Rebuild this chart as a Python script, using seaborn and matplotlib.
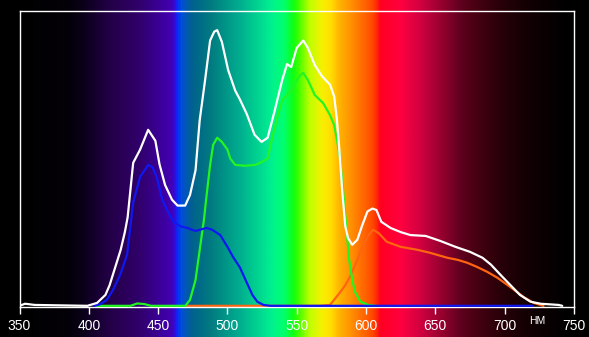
import numpy as np
import pandas as pd
import matplotlib
matplotlib.use("Agg")
import matplotlib.pyplot as plt
from matplotlib.colors import LinearSegmentedColormap
import seaborn as sns

# ---- data (wavelength nm, relative intensity) ----
white_wl = [350, 354, 361, 399, 406, 412, 415, 419, 423, 426, 428, 432, 437, 442.8, 448, 451, 455, 460,
            464, 469.5, 473, 477, 480, 484, 487.5, 490.5, 492.6, 496, 500.5, 505.6, 509, 514, 519.6,
            524.6, 529, 534, 539.5, 543, 546, 550, 554.7, 558, 563, 568, 574, 577, 579, 580.7, 582.8,
            585, 587, 590, 593.7, 597, 601, 604.6, 607.5, 611, 617.7, 625, 632, 643, 653.6, 664.5,
            675, 684, 690, 697, 704, 711, 718.6, 726, 739, 741.5]
white_val = [0, 0.007, 0.003, 0, 0.01, 0.037, 0.07, 0.13, 0.19, 0.25, 0.30, 0.485, 0.53, 0.597, 0.56, 0.48,
             0.41, 0.36, 0.34, 0.34, 0.376, 0.46, 0.63, 0.77, 0.90, 0.93, 0.935, 0.895, 0.80, 0.73, 0.70,
             0.65, 0.58, 0.556, 0.57, 0.66, 0.766, 0.82, 0.81, 0.875, 0.90, 0.875, 0.817, 0.78, 0.75,
             0.71, 0.63, 0.53, 0.39, 0.27, 0.23, 0.207, 0.224, 0.27, 0.32, 0.33, 0.325, 0.285, 0.264,
             0.25, 0.24, 0.237, 0.22, 0.20, 0.183, 0.163, 0.14, 0.105, 0.071, 0.037, 0.014, 0.007,
             0.003, 0]

blue_wl = [404, 408, 413, 417.5, 422.6, 427.6, 432, 437, 442.8, 446, 449, 453, 457, 461, 466, 471, 477,
           480, 485, 489, 494.8, 500, 504, 509, 514, 518, 521.5, 526, 531, 720]
blue_val = [0, 0.005, 0.02, 0.054, 0.105, 0.173, 0.35, 0.437, 0.478, 0.47, 0.437, 0.36, 0.32, 0.285,
            0.27, 0.264, 0.254, 0.258, 0.264, 0.258, 0.24, 0.2, 0.166, 0.13, 0.078, 0.037, 0.014,
            0.003, 0, 0]

green_wl = [405, 430, 435, 440, 445, 469.6, 473, 477, 480, 483, 485, 487.5, 489.7, 492.6, 496, 500, 502,
            505.6, 512.8, 520, 525, 529, 532, 536, 540, 545, 549.6, 552, 554.7, 558, 563, 569, 574,
            577, 579, 581, 583.4, 585.6, 587.8, 590, 592, 596, 601.6, 606.6]
green_val = [0, 0, 0.008, 0.006, 0, 0, 0.02, 0.088, 0.19, 0.29, 0.376, 0.478, 0.546, 0.57, 0.556, 0.53,
             0.50, 0.478, 0.475, 0.478, 0.488, 0.50, 0.563, 0.64, 0.70, 0.725, 0.76, 0.78, 0.79, 0.766,
             0.715, 0.688, 0.647, 0.613, 0.563, 0.51, 0.393, 0.275, 0.156, 0.088, 0.047, 0.014, 0.003, 0]

orange_wl = [470, 567, 574, 581, 585, 588.6, 593.7, 597, 601, 605, 609, 615, 625, 637, 646, 658.6, 666,
             673, 680, 687.5, 694.8, 704, 713.6, 720.8, 728]
orange_val = [0, 0, 0.003, 0.044, 0.07, 0.1, 0.156, 0.197, 0.234, 0.258, 0.247, 0.217, 0.2, 0.19, 0.18,
              0.163, 0.156, 0.146, 0.132, 0.115, 0.095, 0.064, 0.03, 0.01, 0]

x_ticks = [350, 400, 450, 500, 550, 600, 650, 700, 750]
unit_label = "НМ"

# spectrum background colour stops (wavelength, colour)
spec_wl = [350, 385, 394, 415, 437, 459, 462, 463.5, 466, 473, 487, 509, 531, 540, 547, 551, 559, 568,
           574, 581, 589, 603, 607, 610, 625, 639, 654, 668, 675, 697, 719, 740, 750]
spec_col = ["#000000", "#040008", "#0a0018", "#240048", "#32006e", "#4200b4", "#3010e0", "#0030ff",
            "#0050d8", "#006090", "#007a80", "#00b090", "#00f090", "#00ff70", "#10ff10", "#40ff00",
            "#c0ff00", "#f8f000", "#ffe000", "#ffb000", "#ff9000", "#ff5000", "#ff3000", "#ff0020",
            "#ff0040", "#d00040", "#980030", "#600020", "#500015", "#280008", "#100003", "#030001",
            "#000000"]

sns.set_style("ticks")
plt.rcParams["font.family"] = ["Liberation Sans", "DejaVu Sans"]

W, H = 589, 337
fig = plt.figure(figsize=(W / 100, H / 100), dpi=100, facecolor="black")

# axes geometry in pixels
x0, x1, ytop, ybot = 19.5, 574.0, 11.0, 307.0
px_per_nm = (x1 - x0) / (750 - 350)

# background spectrum spanning whole figure
bg = fig.add_axes([0, 0, 1, 1], zorder=0)
bg.set_axis_off()
lo = 350 - x0 / px_per_nm
hi = 350 + (W - x0) / px_per_nm
bg.set_xlim(lo, hi)
bg.set_ylim(0, 1)
nodes = [(w - 350) / 400 for w in spec_wl]
cmap = LinearSegmentedColormap.from_list("spec", list(zip(nodes, spec_col)))
grid = np.linspace(350, 750, 1600)
bg.imshow(((grid - 350) / 400)[None, :], cmap=cmap, vmin=0, vmax=1, aspect="auto",
          extent=(350, 750, 0, 1), interpolation="bilinear")
bg.axvspan(lo, 350, color="black")
bg.axvspan(750, hi, color="black")

ax = fig.add_axes([x0 / W, 1 - ybot / H, (x1 - x0) / W, (ybot - ytop) / H], zorder=1)
ax.set_facecolor("none")

lw = 1.6
for wl, val, col, z in [(orange_wl, orange_val, "#ff6410", 2),
                        (green_wl, green_val, "#22f522", 3),
                        (blue_wl, blue_val, "#1018f0", 4),
                        (white_wl, white_val, "#ffffff", 5)]:
    df = pd.DataFrame({"wl": wl, "v": val})
    sns.lineplot(data=df, x="wl", y="v", color=col, linewidth=lw, ax=ax, zorder=z, sort=False)

ax.set_xlim(350, 750)
ax.set_ylim(-0.004, 1.0)
ax.set_xticks(x_ticks)
ax.set_xticklabels([str(t) for t in x_ticks])
ax.set_yticks([])
ax.set_xlabel("")
ax.set_ylabel("")
for s in ax.spines.values():
    s.set_color("white")
    s.set_linewidth(1.0)
    s.set_visible(True)
ax.tick_params(axis="x", colors="white", direction="out", length=5, width=1.0, pad=3.5,
               labelsize=10, labelcolor="white")

fig.text(537 / W, 1 - 320.5 / H, unit_label, color="white", fontsize=7.5, ha="center", va="center")

fig.savefig("out.png", dpi=100, facecolor="black")
